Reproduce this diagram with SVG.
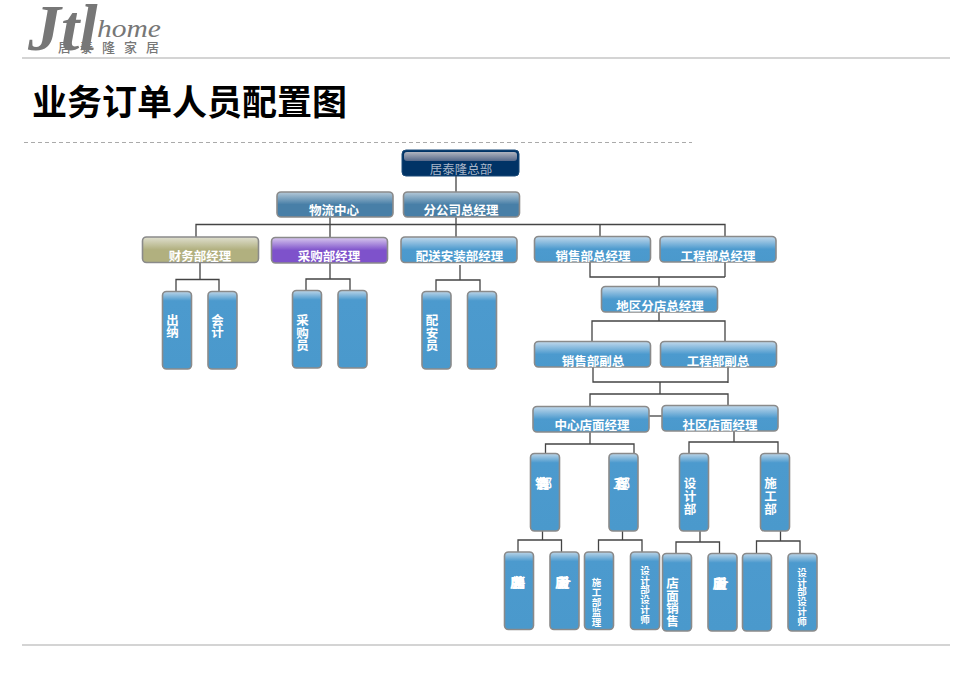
<svg xmlns="http://www.w3.org/2000/svg" width="975" height="675" viewBox="0 0 975 675">
<style>
text{font-family:"Noto Sans CJK SC","Liberation Sans",sans-serif}
.n{stroke:#8a8a8a;stroke-width:1.6}
.l{fill:#fff;font-weight:700;font-size:12.5px;text-anchor:middle}
.v{fill:#fff;font-weight:700;font-size:12.5px;text-anchor:middle}
.s{fill:#fff;font-weight:700;font-size:9.5px;text-anchor:middle}
.b{fill:#fff;font-weight:700;font-size:13px;letter-spacing:-11px}
.c{fill:#fff;font-weight:700;font-size:13px;letter-spacing:-12px}
.g{font-family:"Liberation Serif",serif;font-style:italic;fill:#777}
#connectors path{fill:none;stroke:#444;stroke-width:1.3}
</style>
<defs>
<linearGradient id="gB" x1="0" y1="0" x2="0" y2="1"><stop offset="0" stop-color="#c2d9ec"/><stop offset=".5" stop-color="#4c9ace"/><stop offset="1" stop-color="#4a99cc"/></linearGradient>
<linearGradient id="gS" x1="0" y1="0" x2="0" y2="1"><stop offset="0" stop-color="#b5c9d8"/><stop offset=".5" stop-color="#487fa7"/><stop offset="1" stop-color="#487fa7"/></linearGradient>
<linearGradient id="gK" x1="0" y1="0" x2="0" y2="1"><stop offset="0" stop-color="#dfdfcf"/><stop offset=".5" stop-color="#b1b07f"/><stop offset="1" stop-color="#b1b07f"/></linearGradient>
<linearGradient id="gP" x1="0" y1="0" x2="0" y2="1"><stop offset="0" stop-color="#d8c8ee"/><stop offset=".5" stop-color="#7e52cb"/><stop offset="1" stop-color="#7e52cb"/></linearGradient>
<linearGradient id="gN" x1="0" y1="0" x2="0" y2="1"><stop offset="0" stop-color="#b0b4bf"/><stop offset="1" stop-color="#55688a"/></linearGradient>
<linearGradient id="gV" x1="0" y1="0" x2="0" y2="1"><stop offset="0" stop-color="#bcd5e8"/><stop offset=".12" stop-color="#4c9ace"/><stop offset="1" stop-color="#4a99cc"/></linearGradient>
</defs>
<rect width="975" height="675" fill="#fff"/>
<g id="logo">
<text class="g" x="28" y="50" font-size="66" font-weight="700">Jtl</text>
<text class="g" x="97" y="37" font-size="26" textLength="64" lengthAdjust="spacingAndGlyphs">home</text>
<text x="58" y="52" font-size="13" fill="#777" font-weight="500" textLength="101" lengthAdjust="spacing">居泰隆家居</text>
</g>
<path d="M22 58H950M22 645H950" stroke="#d4d4d4" stroke-width="2" fill="none"/>
<path d="M24 142.500H692" stroke="#aaa" stroke-dasharray="4 3" fill="none"/>
<text id="title" x="32" y="115" font-size="35" font-weight="700" fill="#000">业务订单人员配置图</text>
<g id="connectors">
<path d="M456 176V192M456 217V237M330 217V237M196 237V224.500H725V237M600 225V236"/>
<path d="M200 263V279.500M176 291V279.500H219V291"/>
<path d="M330 263V279M306 290V279H350V290"/>
<path d="M460 265V280M436 291V280H480V291"/>
<path d="M590 262V277H725M725 262V277M659 277V286"/>
<path d="M659 312V321M592 341V321H725V341"/>
<path d="M593 367V382H728M728 367V383M660 382V394M590 406V394H728V405"/>
<path d="M649 416H662"/>
<path d="M590 432V444M545.500 453V444H634V453"/>
<path d="M734 431V442M689 453V442H778V453"/>
<path d="M542.500 531V540M518 552V540H561.500V552"/>
<path d="M622.500 531V540M598.500 552V540H642V552"/>
<path d="M700 531V542M676 553V542H719.500V553"/>
<path d="M780.500 531V541M756.500 553V541H800V553"/>
</g>
<g id="hq"><rect x="402" y="150" width="117" height="26" rx="4" fill="#003366" stroke="#1a4a78"/><rect x="404" y="152" width="113" height="9" rx="3" fill="url(#gN)"/><text x="461" y="174" font-size="12.500" fill="#a9b6c8" text-anchor="middle">居泰隆总部</text></g>
<g id="n1"><rect class="n" x="277" y="192" width="116" height="25" rx="4" fill="url(#gS)"/><text class="l" x="334" y="215">物流中心</text></g>
<g id="n2"><rect class="n" x="403.500" y="192" width="116" height="25" rx="4" fill="url(#gS)"/><text class="l" x="461" y="215">分公司总经理</text></g>
<g id="n3"><rect class="n" x="142.500" y="237" width="116" height="25.500" rx="4" fill="url(#gK)"/><text class="l" x="200" y="260.500">财务部经理</text></g>
<g id="n4"><rect class="n" x="271.500" y="237.500" width="116" height="25.500" rx="4" fill="url(#gP)"/><text class="l" x="329" y="260.500">采购部经理</text></g>
<g id="n5"><rect class="n" x="401" y="237" width="116" height="25.500" rx="4" fill="url(#gB)"/><text class="l" x="459.500" y="261">配送安装部经理</text></g>
<g id="n6"><rect class="n" x="534.500" y="236.500" width="116" height="25.500" rx="4" fill="url(#gB)"/><text class="l" x="593" y="260.500">销售部总经理</text></g>
<g id="n7"><rect class="n" x="660" y="236.500" width="116" height="25.500" rx="4" fill="url(#gB)"/><text class="l" x="718" y="260.500">工程部总经理</text></g>
<g id="n8"><rect class="n" x="601.500" y="286.500" width="116" height="25.500" rx="4" fill="url(#gB)"/><text class="l" x="660" y="310.500">地区分店总经理</text></g>
<g id="n9"><rect class="n" x="534.500" y="341.500" width="116" height="25.500" rx="4" fill="url(#gB)"/><text class="l" x="593" y="365.500">销售部副总</text></g>
<g id="n10"><rect class="n" x="660.500" y="341.500" width="116" height="25.500" rx="4" fill="url(#gB)"/><text class="l" x="718" y="365.500">工程部副总</text></g>
<g id="n11"><rect class="n" x="533" y="406.500" width="116" height="25.500" rx="4" fill="url(#gB)"/><text class="l" x="592" y="430">中心店面经理</text></g>
<g id="n12"><rect class="n" x="662" y="405.500" width="116" height="25.500" rx="4" fill="url(#gB)"/><text class="l" x="720" y="430">社区店面经理</text></g>
<g id="v1"><rect class="n" x="162.500" y="291.500" width="29" height="77.500" rx="4" fill="url(#gV)"/><text class="v" x="172.500" y="325">出<tspan x="172.500" dy="12">纳</tspan></text></g>
<g id="v2"><rect class="n" x="208" y="291.500" width="29" height="77.500" rx="4" fill="url(#gV)"/><text class="v" x="217.500" y="325">会<tspan x="217.500" dy="12">计</tspan></text></g>
<g id="v3"><rect class="n" x="292.500" y="290.500" width="29" height="77.500" rx="4" fill="url(#gV)"/><text class="v" x="302.500" y="325">采<tspan x="302.500" dy="12.500">购</tspan><tspan x="302.500" dy="12.500">员</tspan></text></g>
<g id="v4"><rect class="n" x="338" y="290.500" width="29" height="77.500" rx="4" fill="url(#gV)"/></g>
<g id="v5"><rect class="n" x="422" y="291.500" width="29" height="77.500" rx="4" fill="url(#gV)"/><text class="v" x="432" y="325">配<tspan x="432" dy="12.500">安</tspan><tspan x="432" dy="12.500">员</tspan></text></g>
<g id="v6"><rect class="n" x="467.500" y="291.500" width="29" height="77.500" rx="4" fill="url(#gV)"/></g>
<g id="v7"><rect class="n" x="530.500" y="453.500" width="29" height="77.500" rx="4" fill="url(#gV)"/><text class="b" x="535" y="488">销售部</text></g>
<g id="v8"><rect class="n" x="609" y="453.500" width="29" height="77.500" rx="4" fill="url(#gV)"/><text class="b" x="613" y="488">工程部</text></g>
<g id="v9"><rect class="n" x="679.500" y="453.500" width="29" height="77.500" rx="4" fill="url(#gV)"/><text class="v" x="690" y="488">设<tspan x="690" dy="13">计</tspan><tspan x="690" dy="13">部</tspan></text></g>
<g id="v10"><rect class="n" x="760.500" y="453.500" width="29" height="77.500" rx="4" fill="url(#gV)"/><text class="v" x="770.500" y="488">施<tspan x="770.500" dy="13">工</tspan><tspan x="770.500" dy="13">部</tspan></text></g>
<g id="v11"><rect class="n" x="504.500" y="552" width="29" height="77.500" rx="4" fill="url(#gV)"/><text class="c" x="510" y="587">店面销售</text></g>
<g id="v12"><rect class="n" x="550" y="552" width="29" height="77.500" rx="4" fill="url(#gV)"/><text class="c" x="555" y="587">店面设计</text></g>
<g id="v13"><rect class="n" x="584.500" y="552" width="29" height="77.500" rx="4" fill="url(#gV)"/><text class="s" x="596.500" y="586">施<tspan x="596.500" dy="10">工</tspan><tspan x="596.500" dy="10">部</tspan><tspan x="596.500" dy="10">监</tspan><tspan x="596.500" dy="10">理</tspan></text></g>
<g id="v14"><rect class="n" x="630.500" y="552" width="29" height="77.500" rx="4" fill="url(#gV)"/><text class="s" x="645" y="574">设<tspan x="645" dy="9.700">计</tspan><tspan x="645" dy="9.700">部</tspan><tspan x="645" dy="9.700">设</tspan><tspan x="645" dy="9.700">计</tspan><tspan x="645" dy="9.700">师</tspan></text></g>
<g id="v15"><rect class="n" x="662.500" y="553.500" width="29" height="77.500" rx="4" fill="url(#gV)"/><text class="v" x="672.500" y="588">店<tspan x="672.500" dy="12.500">面</tspan><tspan x="672.500" dy="12.500">销</tspan><tspan x="672.500" dy="12.500">售</tspan></text></g>
<g id="v16"><rect class="n" x="708" y="553.500" width="29" height="77.500" rx="4" fill="url(#gV)"/><text class="c" x="712.500" y="588">店面设计</text></g>
<g id="v17"><rect class="n" x="742.500" y="553.500" width="29" height="77.500" rx="4" fill="url(#gV)"/></g>
<g id="v18"><rect class="n" x="788" y="553.500" width="29" height="77.500" rx="4" fill="url(#gV)"/><text class="s" x="802" y="576">设<tspan x="802" dy="9.700">计</tspan><tspan x="802" dy="9.700">部</tspan><tspan x="802" dy="9.700">设</tspan><tspan x="802" dy="9.700">计</tspan><tspan x="802" dy="9.700">师</tspan></text></g>
</svg>
